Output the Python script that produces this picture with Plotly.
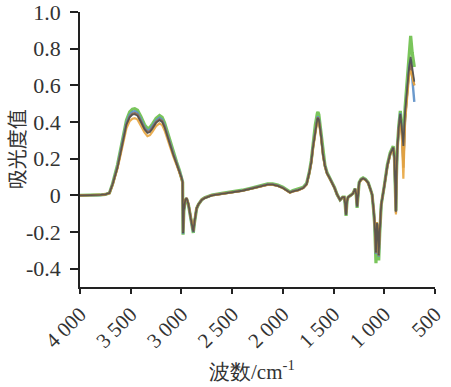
import plotly.graph_objects as go

wavenumber = [4000, 3900, 3800, 3750, 3710, 3678, 3650, 3631, 3600, 3582,
              3560, 3542, 3510, 3483, 3460, 3433, 3400, 3364, 3335, 3310,
              3285, 3250, 3216, 3190, 3166, 3117, 3080, 3047, 3020, 2998,
              2988, 2984, 2976, 2962, 2949, 2930, 2910, 2890, 2883, 2870,
              2850, 2833, 2800, 2771, 2700, 2603, 2500, 2400, 2300, 2200,
              2150, 2100, 2050, 2000, 1960, 1930, 1900, 1850, 1800, 1766,
              1740, 1720, 1703, 1680, 1660, 1654, 1645, 1625, 1604, 1585,
              1565, 1540, 1515, 1490, 1466, 1436, 1410, 1395, 1387, 1377,
              1367, 1357, 1330, 1308, 1288, 1278, 1268, 1258, 1248, 1230,
              1209, 1185, 1159, 1135, 1120, 1105, 1095, 1082, 1072, 1064,
              1055, 1045, 1030, 1000, 991, 970, 942, 920, 912, 900,
              892, 885, 880, 872, 857, 842, 825, 812, 795, 773,
              755, 740, 725, 704]

abs_green = [0.000, 0.000, 0.002, 0.005, 0.013, 0.065, 0.120, 0.165, 0.250, 0.300,
             0.365, 0.410, 0.455, 0.470, 0.473, 0.465, 0.430, 0.385, 0.365, 0.370,
             0.390, 0.420, 0.435, 0.425, 0.395, 0.300, 0.235, 0.180, 0.137, 0.100,
             0.072, -0.215, -0.085, -0.028, -0.018, -0.055, -0.125, -0.198, -0.205, -0.145,
             -0.072, -0.050, -0.024, -0.013, 0.002, 0.011, 0.018, 0.028, 0.041, 0.056,
             0.062, 0.062, 0.056, 0.044, 0.029, 0.019, 0.026, 0.033, 0.044, 0.065,
             0.125, 0.190, 0.275, 0.385, 0.448, 0.455, 0.440, 0.350, 0.230, 0.165,
             0.125, 0.098, 0.073, 0.042, 0.006, -0.025, -0.010, -0.010, -0.042, -0.112,
             -0.032, -0.010, 0.001, 0.011, 0.037, 0.011, -0.068, 0.031, 0.070, 0.088,
             0.095, 0.088, 0.070, 0.031, 0.003, -0.085, -0.160, -0.370, -0.160, -0.190,
             -0.355, -0.210, -0.052, 0.052, 0.093, 0.166, 0.232, 0.258, 0.268, 0.205,
             0.082, -0.085, 0.103, 0.258, 0.380, 0.460, 0.370, 0.300, 0.480, 0.660,
             0.800, 0.870, 0.780, 0.700]

abs_blue = [0.000, 0.000, 0.002, 0.005, 0.012, 0.062, 0.115, 0.155, 0.240, 0.290,
            0.350, 0.395, 0.440, 0.455, 0.458, 0.450, 0.415, 0.372, 0.352, 0.358,
            0.378, 0.408, 0.423, 0.412, 0.382, 0.290, 0.228, 0.175, 0.133, 0.097,
            0.070, -0.210, -0.082, -0.026, -0.016, -0.052, -0.122, -0.193, -0.200, -0.142,
            -0.071, -0.050, -0.025, -0.014, 0.001, 0.009, 0.016, 0.026, 0.039, 0.053,
            0.059, 0.059, 0.053, 0.041, 0.026, 0.016, 0.023, 0.029, 0.041, 0.061,
            0.121, 0.182, 0.263, 0.365, 0.422, 0.430, 0.418, 0.335, 0.222, 0.161,
            0.121, 0.096, 0.071, 0.040, 0.005, -0.025, -0.010, -0.010, -0.041, -0.107,
            -0.031, -0.010, 0.000, 0.010, 0.035, 0.010, -0.062, 0.030, 0.068, 0.085,
            0.092, 0.085, 0.068, 0.030, 0.004, -0.080, -0.152, -0.320, -0.152, -0.182,
            -0.335, -0.202, -0.050, 0.050, 0.090, 0.160, 0.224, 0.250, 0.258, 0.198,
            0.078, -0.092, 0.098, 0.248, 0.368, 0.450, 0.340, 0.190, 0.420, 0.600,
            0.700, 0.740, 0.620, 0.510]

abs_brown = [0.000, 0.000, 0.002, 0.005, 0.012, 0.060, 0.110, 0.150, 0.230, 0.280,
             0.340, 0.385, 0.430, 0.445, 0.448, 0.440, 0.405, 0.364, 0.345, 0.350,
             0.370, 0.400, 0.415, 0.405, 0.375, 0.283, 0.222, 0.172, 0.130, 0.095,
             0.070, -0.205, -0.080, -0.025, -0.015, -0.050, -0.120, -0.190, -0.196, -0.140,
             -0.070, -0.050, -0.025, -0.015, 0.000, 0.008, 0.015, 0.025, 0.038, 0.052,
             0.058, 0.058, 0.052, 0.040, 0.025, 0.015, 0.022, 0.028, 0.040, 0.060,
             0.120, 0.180, 0.260, 0.360, 0.418, 0.425, 0.413, 0.332, 0.220, 0.160,
             0.120, 0.095, 0.070, 0.040, 0.005, -0.025, -0.010, -0.010, -0.040, -0.105,
             -0.030, -0.010, 0.000, 0.010, 0.035, 0.010, -0.060, 0.030, 0.068, 0.085,
             0.092, 0.085, 0.068, 0.030, 0.004, -0.080, -0.150, -0.315, -0.150, -0.180,
             -0.330, -0.200, -0.050, 0.050, 0.090, 0.160, 0.225, 0.250, 0.260, 0.200,
             0.080, -0.095, 0.100, 0.250, 0.368, 0.440, 0.330, 0.150, 0.420, 0.580,
             0.680, 0.720, 0.660, 0.600]

abs_orange = [0.000, 0.000, 0.002, 0.005, 0.011, 0.057, 0.104, 0.145, 0.220, 0.267,
              0.324, 0.366, 0.405, 0.418, 0.421, 0.413, 0.380, 0.343, 0.323, 0.328,
              0.348, 0.378, 0.393, 0.383, 0.354, 0.268, 0.211, 0.164, 0.125, 0.092,
              0.067, -0.200, -0.078, -0.024, -0.015, -0.049, -0.118, -0.186, -0.192, -0.138,
              -0.069, -0.050, -0.025, -0.015, 0.000, 0.008, 0.015, 0.024, 0.037, 0.051,
              0.057, 0.057, 0.051, 0.039, 0.024, 0.014, 0.021, 0.027, 0.039, 0.058,
              0.116, 0.175, 0.252, 0.350, 0.404, 0.410, 0.400, 0.322, 0.214, 0.156,
              0.117, 0.093, 0.069, 0.039, 0.005, -0.025, -0.010, -0.010, -0.039, -0.102,
              -0.029, -0.010, 0.000, 0.010, 0.034, 0.010, -0.058, 0.029, 0.066, 0.083,
              0.090, 0.083, 0.066, 0.029, 0.004, -0.078, -0.146, -0.305, -0.146, -0.176,
              -0.320, -0.196, -0.049, 0.049, 0.088, 0.156, 0.220, 0.245, 0.255, 0.195,
              0.076, -0.105, 0.096, 0.243, 0.360, 0.420, 0.300, 0.090, 0.400, 0.570,
              0.660, 0.680, 0.640, 0.600]

abs_gray = [0.000, 0.000, 0.002, 0.005, 0.012, 0.060, 0.110, 0.150, 0.230, 0.280,
            0.340, 0.385, 0.425, 0.440, 0.443, 0.434, 0.400, 0.360, 0.340, 0.345,
            0.365, 0.395, 0.410, 0.400, 0.370, 0.280, 0.220, 0.170, 0.130, 0.095,
            0.070, -0.207, -0.080, -0.025, -0.015, -0.050, -0.120, -0.190, -0.198, -0.140,
            -0.070, -0.050, -0.025, -0.015, 0.000, 0.008, 0.015, 0.025, 0.038, 0.052,
            0.058, 0.058, 0.052, 0.040, 0.025, 0.015, 0.022, 0.028, 0.040, 0.060,
            0.120, 0.180, 0.260, 0.360, 0.415, 0.420, 0.410, 0.330, 0.220, 0.160,
            0.120, 0.095, 0.070, 0.040, 0.005, -0.025, -0.010, -0.010, -0.040, -0.105,
            -0.030, -0.010, 0.000, 0.010, 0.035, 0.010, -0.060, 0.030, 0.068, 0.085,
            0.092, 0.085, 0.068, 0.030, 0.004, -0.080, -0.150, -0.310, -0.150, -0.180,
            -0.325, -0.200, -0.050, 0.050, 0.090, 0.160, 0.225, 0.250, 0.260, 0.200,
            0.080, -0.090, 0.100, 0.250, 0.370, 0.445, 0.350, 0.270, 0.450, 0.600,
            0.700, 0.755, 0.700, 0.620]

series_names = ["样品1", "样品2", "样品3", "样品4", "样品5"]
series_values = [abs_green, abs_blue, abs_brown, abs_orange, abs_gray]
series_colors = ["#6cbf4a", "#5b8fc7", "#9a6a4a", "#e8a640", "#4f4f4f"]
series_widths = [3.2, 2.4, 2.2, 2.2, 1.8]

x_tickvals = [4000, 3500, 3000, 2500, 2000, 1500, 1000, 500]
x_ticktext = ["4 000", "3 500", "3 000", "2 500", "2 000", "1 500", "1 000", "500"]
y_tickvals = [1.0, 0.8, 0.6, 0.4, 0.2, 0, -0.2, -0.4]
y_ticktext = ["1.0", "0.8", "0.6", "0.4", "0.2", "0", "-0.2", "-0.4"]

fig = go.Figure()
for name, vals, col, w in zip(series_names, series_values, series_colors, series_widths):
    fig.add_trace(go.Scatter(x=wavenumber, y=vals, mode="lines", name=name,
                             line=dict(color=col, width=w), opacity=0.9))

font_serif = "Liberation Serif, Times New Roman, serif"
fig.update_layout(
    width=451, height=387,
    margin=dict(l=80, r=16, t=12, b=100, autoexpand=False),
    paper_bgcolor="white", plot_bgcolor="white",
    showlegend=False,
    font=dict(family=font_serif, size=20, color="#333333"),
    xaxis=dict(range=[4000, 500], tickvals=x_tickvals, ticktext=x_ticktext,
               tickangle=-45, showgrid=False, zeroline=False, automargin=False,
               ticklabeloverflow="allow",
               showline=True, linecolor="#222222", linewidth=1.5,
               ticks="outside", ticklen=5, tickwidth=1.5, tickcolor="#222222",
               tickfont=dict(family=font_serif, size=21, color="#333333")),
    yaxis=dict(range=[-0.5, 1.0], tickvals=y_tickvals, ticktext=y_ticktext,
               showgrid=False, zeroline=False, automargin=False,
               ticklabeloverflow="allow", ticklabelstandoff=5,
               showline=True, linecolor="#222222", linewidth=1.5,
               ticks="outside", ticklen=8, tickwidth=1.5, tickcolor="#222222",
               tickfont=dict(family=font_serif, size=22, color="#333333")),
    annotations=[
        dict(text="吸光度值", xref="paper", yref="paper", x=-0.178, y=0.5,
             textangle=-90, showarrow=False, xanchor="center", yanchor="middle",
             font=dict(family="Noto Sans CJK SC", size=20, color="#333333")),
        dict(text="波数/cm<sup>-1</sup>", xref="paper", yref="paper", x=0.485, y=-0.305,
             showarrow=False, xanchor="center", yanchor="middle",
             font=dict(family=font_serif, size=21, color="#333333")),
    ],
)

fig.write_html("out.html", config={"displayModeBar": False},
               post_script="document.body.style.margin='0px';")
